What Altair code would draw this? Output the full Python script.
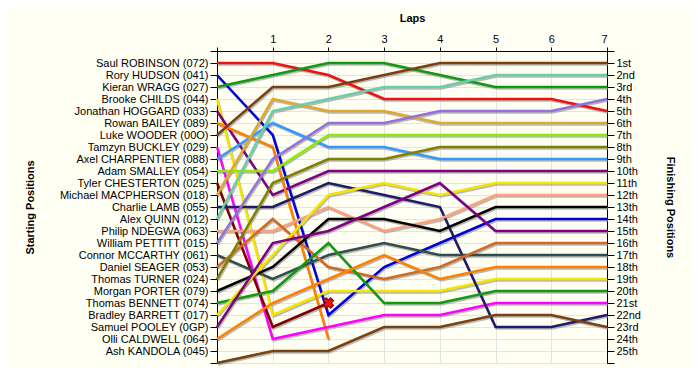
import json
import altair as alt
import pandas as pd

drivers = [
    "Saul ROBINSON (072)", "Rory HUDSON (041)", "Kieran WRAGG (027)", "Brooke CHILDS (044)",
    "Jonathan HOGGARD (033)", "Rowan BAILEY (089)", "Luke WOODER (00O)", "Tamzyn BUCKLEY (029)",
    "Axel CHARPENTIER (088)", "Adam SMALLEY (054)", "Tyler CHESTERTON (025)", "Michael MACPHERSON (018)",
    "Charlie LAMB (055)", "Alex QUINN (012)", "Philip NDEGWA (063)", "William PETTITT (015)",
    "Connor MCCARTHY (061)", "Daniel SEAGER (053)", "Thomas TURNER (024)", "Morgan PORTER (079)",
    "Thomas BENNETT (074)", "Bradley BARRETT (017)", "Samuel POOLEY (0GP)", "Olli CALDWELL (064)",
    "Ash KANDOLA (045)",
]
colors = [
    "#ee1111", "#0000dd", "#119911", "#f5e400", "#800080", "#ff8000", "#7a4010", "#ff00ff",
    "#3399ff", "#88ee00", "#800000", "#dcaa30", "#1c1c6a", "#6ccdaa", "#ffa07a", "#9370db",
    "#2f4f4f", "#d2691e", "#808000", "#000000", "#119911", "#f5e400", "#800080", "#ff8000",
    "#7a4010",
]
finish_labels = ["1st", "2nd", "3rd", "4th", "5th", "6th", "7th", "8th", "9th", "10th", "11th", "12th",
                 "13th", "14th", "15th", "16th", "17th", "18th", "19th", "20th", "21st", "22nd", "23rd",
                 "24th", "25th"]
lap_numbers = [0, 1, 2, 3, 4, 5, 6, 7]

saul = [1, 1, 2, 4, 4, 4, 4, 5]
rory = [2, 7, 22, 18, 16, 14, 14, 14]
kieran = [3, 2, 1, 1, 2, 3, 3, 3]
brooke = [4, 22, 20, 20, 20, 19, 19, 19]
jonathan = [5, 12, 10, 10, 10, 10, 10, 10]
rowan = [6, 8, 24]
luke = [7, 3, 3, 2, 1, 1, 1, 1]
tamzyn = [8, 24, 23, 22, 22, 21, 21, 21]
axel = [9, 6, 8, 8, 9, 9, 9, 9]
adam = [10, 10, 7, 7, 7, 7, 7, 7]
tyler = [11, 23, 21]
michael = [12, 4, 5, 5, 6, 6, 6, 6]
charlie = [13, 13, 11, 12, 13, 23, 23, 22]
alex = [14, 5, 4, 3, 3, 2, 2, 2]
philip = [15, 15, 13, 15, 14, 12, 12, 12]
william = [16, 9, 6, 6, 5, 5, 5, 4]
connor = [17, 19, 17, 16, 17, 17, 17, 17]
daniel = [18, 14, 18, 19, 18, 16, 16, 16]
thomas_t = [19, 11, 9, 9, 8, 8, 8, 8]
morgan = [20, 18, 14, 14, 15, 13, 13, 13]
thomas_b = [21, 20, 16, 21, 21, 20, 20, 20]
bradley = [22, 17, 12, 11, 12, 11, 11, 11]
samuel = [23, 16, 15, 13, 11, 15, 15, 15]
olli = [24, 21, 19, 17, 19, 18, 18, 18]
ash = [26, 25, 25, 23, 23, 22, 22, 23]

series = [saul, rory, kieran, brooke, jonathan, rowan, luke, tamzyn, axel, adam, tyler, michael,
          charlie, alex, philip, william, connor, daniel, thomas_t, morgan, thomas_b, bradley,
          samuel, olli, ash]

retired_driver = ["Tyler CHESTERTON (025)"]
retired_lap = [2]
retired_pos = [21]

rows = []
for name, pos in zip(drivers, series):
    for lap, p in zip(lap_numbers, pos):
        rows.append({"driver": name, "lap": lap, "pos": p})
df = pd.DataFrame(rows)
df_x = pd.DataFrame({"driver": retired_driver, "lap": retired_lap, "pos": retired_pos})
df_axis = pd.DataFrame({"lap": [0], "pos": [0]})

FONT = "Liberation Sans"
xscale = alt.Scale(domain=[0, 7], nice=False, zero=False)
yscale = alt.Scale(domain=[0, 26], reverse=True, nice=False, zero=False)

x_axis = alt.Axis(orient="top", values=lap_numbers, title="Laps",
                  labelExpr="datum.value == 0 ? '' : datum.value",
                  tickSize=4, labelPadding=3, titlePadding=10,
                  grid=True, gridColor="#e4e4e4", domainColor="#000", tickColor="#000")
x_enc = alt.X("lap:Q", scale=xscale, axis=x_axis)

names_js = json.dumps([""] + drivers + [""])
fin_js = json.dumps([""] + finish_labels + [""])

left_axis = alt.Axis(orient="left", values=list(range(27)), title="Starting Positions",
                     labelExpr=f"{names_js}[datum.value]", tickSize=7, labelPadding=2,
                     titlePadding=24, grid=True, gridColor="#e4e4e4",
                     domainColor="#000", tickColor="#000")
right_axis = alt.Axis(orient="right", values=list(range(27)), title="Finishing Positions",
                      labelExpr=f"{fin_js}[datum.value]", tickSize=7, labelPadding=2,
                      titlePadding=24, grid=False, domainColor="#000", tickColor="#000")

color_enc = alt.Color("driver:N", scale=alt.Scale(domain=drivers, range=colors), legend=None)

shadow = alt.Chart(df).mark_line(strokeWidth=2.5, color="#8a8a8a", opacity=0.6,
                                 xOffset=1, yOffset=1.5).encode(
    x=x_enc, y=alt.Y("pos:Q", scale=yscale, axis=None), detail="driver:N")

lines = alt.Chart(df).mark_line(strokeWidth=2.5).encode(
    x=x_enc, y=alt.Y("pos:Q", scale=yscale, axis=left_axis), color=color_enc, detail="driver:N")

marker = alt.Chart(df_x).mark_point(shape="cross", angle=45, filled=True, fill="#ee1111",
                                    stroke="#800000", strokeWidth=1, size=110, opacity=1).encode(
    x=x_enc, y=alt.Y("pos:Q", scale=yscale, axis=None))

right = alt.Chart(df_axis).mark_point(opacity=0).encode(
    x=x_enc, y=alt.Y("pos:Q", scale=yscale, axis=right_axis))

chart = alt.layer(shadow, lines, marker, right).resolve_axis(y="independent").properties(
    width=390, height=312,
    autosize=alt.AutoSizeParams(type="none"),
    padding={"left": 209, "top": 43, "right": 85, "bottom": 4},
    background="#fffff4",
).configure_view(stroke=None).configure_axis(
    labelFont=FONT, titleFont=FONT, labelFontSize=11, titleFontSize=11,
    titleFontWeight="bold", labelColor="#000", titleColor="#000",
)

chart.save("out.html", embed_options={"renderer": "svg", "actions": False})
